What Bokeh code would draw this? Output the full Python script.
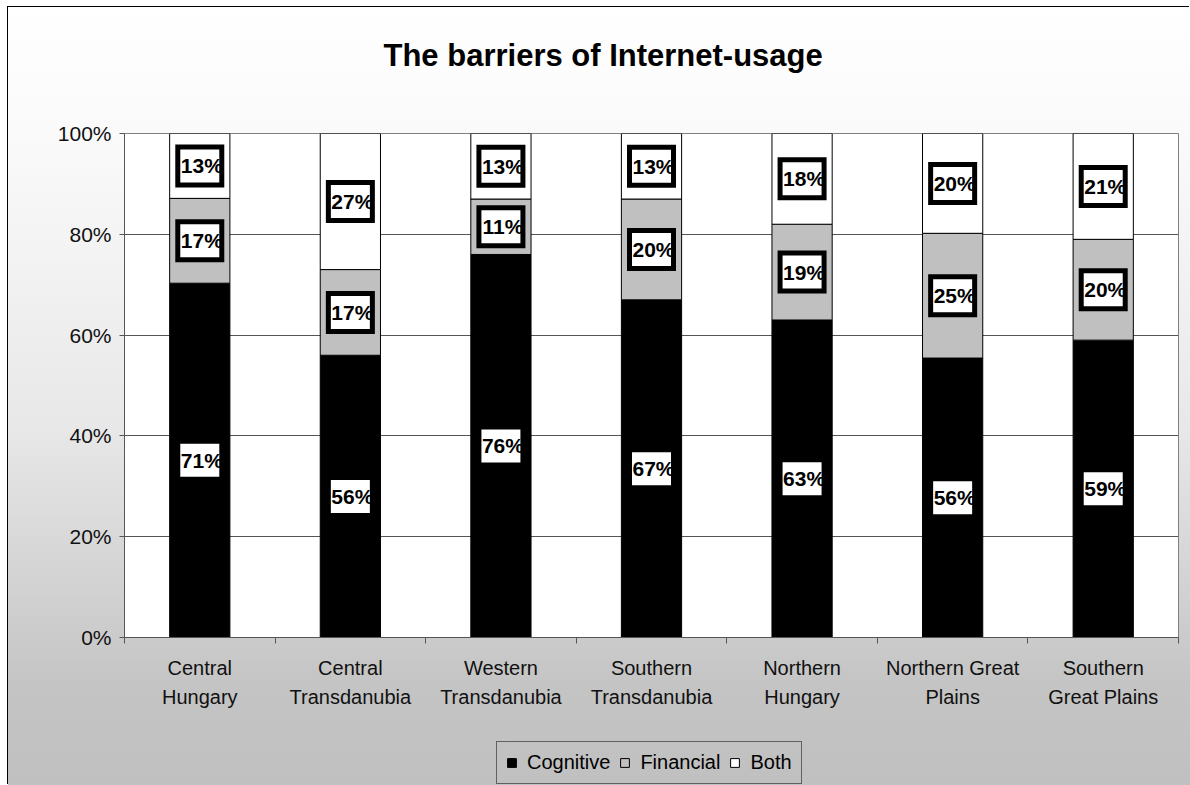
from bokeh.plotting import figure
from bokeh.layouts import column
from bokeh.models import (ColumnDataSource, Range1d, FixedTicker, NumeralTickFormatter,
                          Legend, LegendItem, Title)
from bokeh.core.properties import value
from bokeh.embed import file_html
from bokeh.resources import INLINE

# ---- data ----
categories = ["Central\nHungary", "Central\nTransdanubia", "Western\nTransdanubia",
              "Southern\nTransdanubia", "Northern\nHungary", "Northern Great\nPlains",
              "Southern\nGreat Plains"]
cognitive = [71, 56, 76, 67, 63, 56, 59]
financial = [17, 17, 11, 20, 19, 25, 20]
both = [13, 27, 13, 13, 18, 20, 21]
series_names = ["Cognitive", "Financial", "Both"]
series_colors = ["#000000", "#c0c0c0", "#ffffff"]
y_ticks = [0, 0.2, 0.4, 0.6, 0.8, 1.0]
title_text = "The barriers of Internet-usage"

FONT = "Liberation Sans"

n = len(categories)
xs = [i + 0.5 for i in range(n)]
totals = [a + b + c for a, b, c in zip(cognitive, financial, both)]
cog_f = [a / t for a, t in zip(cognitive, totals)]
fin_f = [a / t for a, t in zip(financial, totals)]
both_f = [a / t for a, t in zip(both, totals)]

src = ColumnDataSource(dict(x=xs, Cognitive=cog_f, Financial=fin_f, Both=both_f))

p = figure(frame_width=1054, frame_height=504, x_range=Range1d(0, n), y_range=Range1d(0, 1),
           output_backend="svg", toolbar_location=None, title_location=None,
           min_border_left=116, min_border_right=12, min_border_top=126, min_border_bottom=93)
p.border_fill_color = None
p.background_fill_color = "white"
p.outline_line_color = "#808080"

rs = p.vbar_stack(series_names, x="x", width=0.4, source=src,
                  fill_color=series_colors, line_color="black", line_width=1)

# labels
lab_x, lab_y, lab_t = [], [], []
for i in range(n):
    bottom = 0.0
    for frac, raw in ((cog_f[i], cognitive[i]), (fin_f[i], financial[i]), (both_f[i], both[i])):
        lab_x.append(xs[i])
        lab_y.append(bottom + frac / 2)
        lab_t.append(f"{raw}%")
        bottom += frac
lsrc = ColumnDataSource(dict(x=lab_x, y=lab_y, t=lab_t))
p.rect(x="x", y="y", width=44, height=38, width_units="screen", height_units="screen",
       source=lsrc, fill_color="white", line_color="black", line_width=5, line_join="miter")
p.text(x="x", y="y", text="t", source=lsrc, text_font=value(FONT), text_font_style="bold",
       text_font_size="21px", text_align="center", text_baseline="middle", x_offset=2,
       text_color="black")

# axes
p.yaxis.ticker = FixedTicker(ticks=y_ticks)
p.yaxis.formatter = NumeralTickFormatter(format="0%")
p.yaxis.major_tick_out = 5
p.yaxis.major_tick_in = 0
p.yaxis.minor_tick_out = 0
p.yaxis.minor_tick_in = 0
p.yaxis.axis_line_color = "#555555"
p.yaxis.major_tick_line_color = "#555555"
p.yaxis.major_label_text_font = FONT
p.yaxis.major_label_text_font_size = "21px"
p.yaxis.major_label_text_color = "#111111"
p.yaxis.major_label_standoff = 8

p.xaxis.ticker = FixedTicker(ticks=xs, minor_ticks=list(range(n + 1)))
p.xaxis.major_label_overrides = {x: c for x, c in zip(xs, categories)}
p.xaxis.major_tick_out = 0
p.xaxis.major_tick_in = 0
p.xaxis.minor_tick_out = 6
p.xaxis.minor_tick_in = 0
p.xaxis.minor_tick_line_color = "#555555"
p.xaxis.axis_line_color = "#555555"
p.xaxis.major_label_text_font = FONT
p.xaxis.major_label_text_font_size = "20px"
p.xaxis.major_label_text_color = "#111111"
p.xaxis.major_label_text_line_height = 1.35
p.xaxis.major_label_standoff = 13

p.xgrid.visible = False
p.ygrid.grid_line_color = "#555555"

# title (spacer nearest the frame, then the real title)
p.add_layout(Title(text=" ", text_font_size="10px", standoff=48), "above")
p.add_layout(Title(text=title_text, align="left", offset=259, standoff=0,
                   text_font=FONT, text_font_size="31px", text_font_style="bold",
                   text_color="black"), "above")

# legend strip
lg = figure(width=1182, height=55, x_range=Range1d(0, n), y_range=Range1d(10, 11),
            output_backend="svg", toolbar_location=None, min_border=0)
lg.border_fill_color = None
lg.background_fill_color = None
lg.outline_line_color = None
lg.axis.visible = False
lg.grid.visible = False
lrs = lg.vbar_stack(series_names, x="x", width=0.4, source=src,
                    fill_color=series_colors, line_color="black", line_width=1)
legend = Legend(items=[LegendItem(label=nm, renderers=[r]) for nm, r in zip(series_names, lrs)],
                orientation="horizontal", location=(372, 1),
                glyph_width=11, glyph_height=11, label_standoff=10, spacing=9,
                padding=9, margin=0, label_text_font=FONT, label_text_font_size="20px",
                label_text_color="black",
                background_fill_alpha=0, border_line_color="black", border_line_width=1)
lg.add_layout(legend, "center")

layout = column(p, lg, spacing=0)
layout.styles = {"margin-left": "8px", "margin-top": "7px",
                 "box-shadow": "-1px -1px 0 0 black",
                 "background": "linear-gradient(to bottom, #ffffff 0px, #f9f9f9 150px, #e8e8e8 420px, "
                               "#d2d2d2 580px, #c4c4c4 680px, #c0c0c0 780px)"}

open("out.html", "w").write(file_html(layout, INLINE))
